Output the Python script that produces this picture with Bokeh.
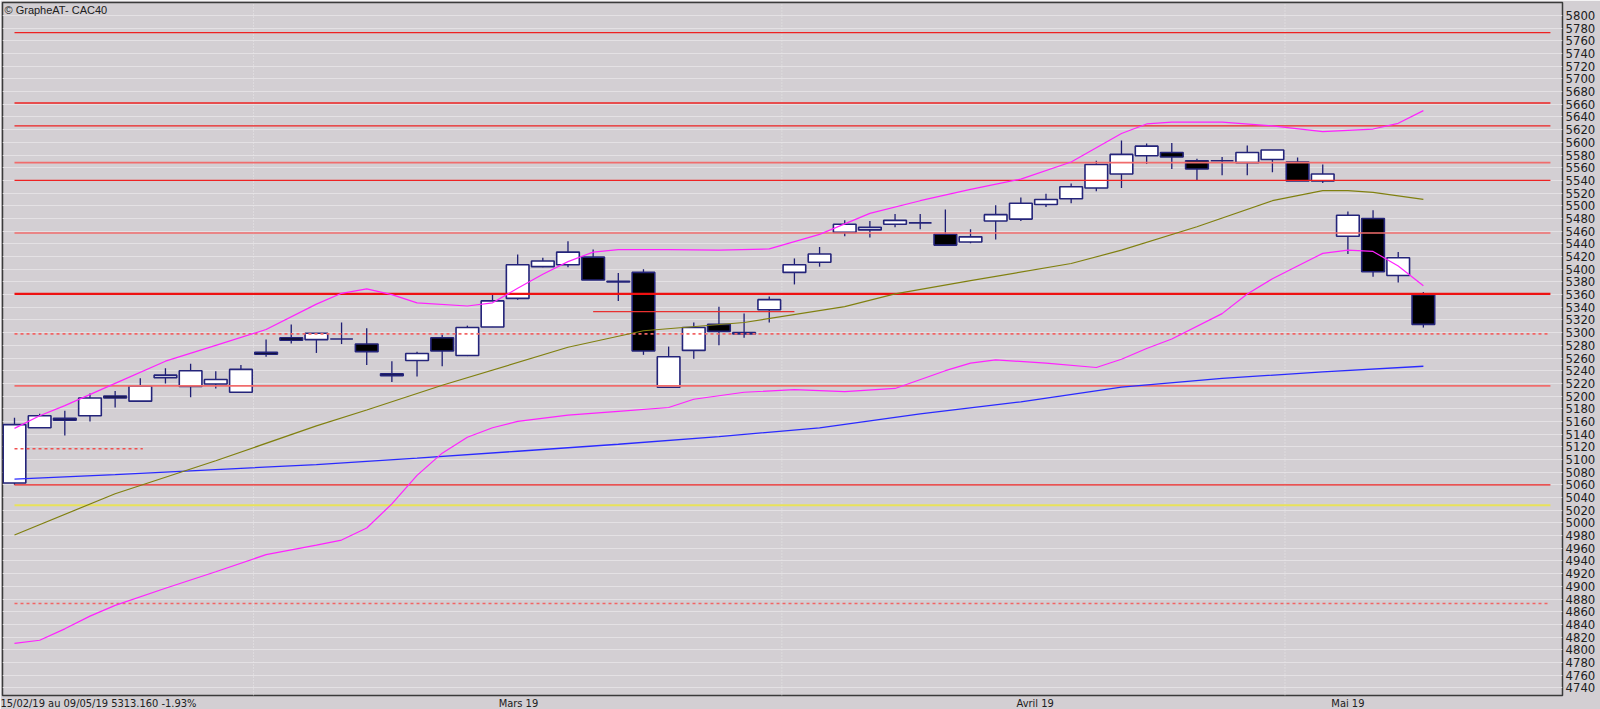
from bokeh.plotting import figure
from bokeh.models import Range1d, LinearAxis, FixedTicker, Label, ColumnDataSource
from bokeh.embed import file_html
from bokeh.resources import INLINE

# ---------------- data ----------------
dates = ["15/02", "18/02", "19/02", "20/02", "21/02", "22/02", "25/02", "26/02", "27/02", "28/02",
         "01/03", "04/03", "05/03", "06/03", "07/03", "08/03", "11/03", "12/03", "13/03", "14/03",
         "15/03", "18/03", "19/03", "20/03", "21/03", "22/03", "25/03", "26/03", "27/03", "28/03",
         "29/03", "01/04", "02/04", "03/04", "04/04", "05/04", "08/04", "09/04", "10/04", "11/04",
         "12/04", "15/04", "16/04", "17/04", "18/04", "23/04", "24/04", "25/04", "26/04", "29/04",
         "30/04", "02/05", "03/05", "06/05", "07/05", "08/05", "09/05"]

opens = [5063, 5150, 5165, 5169, 5200, 5192, 5229, 5215, 5219, 5206,
         5269, 5292, 5289, 5290, 5282, 5235, 5256, 5292, 5264, 5309,
         5354, 5404, 5407, 5419, 5381, 5395, 5214, 5272, 5313, 5300,
         5336, 5395, 5411, 5458, 5462, 5471, 5473, 5455, 5443, 5476,
         5479, 5502, 5511, 5528, 5550, 5579, 5584, 5571, 5571, 5568,
         5573, 5569, 5539, 5452, 5480, 5390, 5360]
highs = [5166, 5172, 5177, 5204, 5208, 5228, 5244, 5251, 5239, 5249,
         5289, 5313, 5299, 5316, 5307, 5255, 5270, 5297, 5311, 5360,
         5423, 5418, 5444, 5431, 5394, 5400, 5278, 5316, 5341, 5330,
         5357, 5417, 5435, 5477, 5476, 5487, 5487, 5494, 5463, 5501,
         5513, 5519, 5535, 5571, 5603, 5598, 5599, 5574, 5577, 5595,
         5588, 5576, 5565, 5491, 5493, 5427, 5364]
lows = [5060, 5150, 5138, 5160, 5182, 5192, 5220, 5198, 5212, 5206,
        5262, 5283, 5268, 5282, 5249, 5222, 5231, 5247, 5263, 5309,
        5352, 5403, 5403, 5383, 5350, 5265, 5213, 5259, 5280, 5292,
        5316, 5376, 5404, 5452, 5450, 5466, 5463, 5438, 5441, 5447,
        5476, 5498, 5504, 5523, 5528, 5566, 5558, 5539, 5548, 5548,
        5553, 5539, 5536, 5424, 5388, 5379, 5308]
closes = [5155, 5169, 5162, 5197, 5197, 5216, 5233, 5240, 5226, 5242,
          5266, 5288, 5299, 5290, 5270, 5232, 5267, 5271, 5308, 5350,
          5407, 5413, 5427, 5383, 5380, 5271, 5262, 5308, 5302, 5298,
          5352, 5407, 5424, 5471, 5466, 5477, 5473, 5438, 5451, 5486,
          5504, 5510, 5530, 5565, 5581, 5594, 5577, 5558, 5571, 5584,
          5588, 5539, 5550, 5485, 5396, 5418, 5313]

# long moving average (blue)
ma_long_day = [0, 4, 8, 12, 16, 20, 24, 28, 32, 36, 40, 44, 48, 52, 56]
ma_long_val = [5069, 5076, 5084, 5092, 5102, 5113, 5124, 5136, 5150, 5172, 5191, 5214, 5228, 5238, 5247]

# 20-day moving average (olive)
ma20_day = [0, 4, 8, 12, 14, 17, 22, 25, 29, 33, 35, 38, 42, 44, 47, 50, 52, 53, 54, 56]
ma20_val = [4981, 5046, 5098, 5153, 5178, 5217, 5277, 5303, 5316, 5341, 5361, 5382, 5409, 5430, 5467, 5508, 5524, 5524, 5521, 5510]

# Bollinger upper band (magenta)
bb_up_day = [0, 1, 2, 4, 6, 8, 10, 12, 13, 14, 15, 16, 18, 19, 20, 21, 22, 23, 24, 26, 28, 30,
             32, 34, 36, 38, 40, 42, 44, 45, 46, 48, 50, 52, 54, 55, 56]
bb_up_val = [5149, 5169, 5185, 5220, 5255, 5280, 5305, 5345, 5362, 5369, 5360, 5347, 5342, 5347,
             5370, 5392, 5412, 5427, 5431, 5431, 5430, 5432, 5455, 5488, 5508, 5526, 5542, 5569,
             5614, 5629, 5632, 5632, 5626, 5617, 5621, 5630, 5650]

# Bollinger lower band (magenta)
bb_lo_day = [0, 1, 2, 3, 4, 6, 8, 10, 12, 13, 14, 15, 16, 17, 18, 19, 20, 22, 24, 26, 27, 29, 31,
             33, 35, 37, 38, 39, 41, 43, 44, 45, 46, 48, 49, 50, 51, 52, 53, 54, 55, 56]
bb_lo_val = [4810, 4815, 4833, 4853, 4870, 4897, 4923, 4950, 4965, 4973, 4992, 5030, 5075, 5110,
             5135, 5150, 5160, 5170, 5176, 5182, 5195, 5206, 5210, 5207, 5212, 5240, 5252, 5257,
             5252, 5245, 5258, 5275, 5290, 5330, 5361, 5385, 5405, 5425, 5430, 5428, 5405, 5374]

# horizontal support / resistance levels
levels_strong = [5773, 5662, 5626, 5540, 5060]
levels_light = [5568, 5457, 5216]
level_main = [5361]
levels_dotted = [5298, 4873]
level_yellow = [5028]
short_dotted_level = [5117]
short_dotted_days = [0, 5.1]
short_thin_level = [5333]
short_thin_days = [23, 31]

y_ticks = list(range(4740, 5801, 20))
month_names = ["Mars 19", "Avril 19", "Mai 19"]
period_text = "15/02/19 au 09/05/19 5313.160 -1.93%"
title_text = "\u00a9 GrapheAT- CAC40"

# ---------------- figure ----------------
BG = "#d3cfd3"
Y0, Y1 = 4727.9, 5820.5
X0, X1 = -0.477, 61.53
p = figure(frame_width=1560, frame_height=693,
           x_range=Range1d(X0, X1), y_range=Range1d(Y0, Y1),
           output_backend="svg", toolbar_location=None,
           x_axis_location=None, y_axis_location=None,
           min_border_left=2, min_border_top=2, min_border_right=38, min_border_bottom=14,
           background_fill_color=BG, border_fill_color=BG)
p.outline_line_color = "#3a3a3a"
p.outline_line_width = 1.5

narrow = "'Liberation Sans Narrow', 'Arial Narrow', 'DejaVu Sans Condensed', sans-serif"

# right price axis
ay = LinearAxis(ticker=FixedTicker(ticks=y_ticks))
ay.axis_line_color = None
ay.major_tick_line_color = None
ay.minor_tick_line_color = None
ay.major_tick_out = 0
ay.major_tick_in = 0
ay.major_label_standoff = 3
ay.major_label_text_font = narrow
ay.major_label_text_font_size = "13px"
ay.major_label_text_color = "#202020"
p.add_layout(ay, "right")

# bottom axis: period text + month names (labels centred on their ticks)
period_pos = 3.22
month_pos = [20.03, 40.57, 53.0]
ax = LinearAxis(ticker=FixedTicker(ticks=[period_pos] + month_pos))
overrides = {period_pos: period_text}
for pos, name in zip(month_pos, month_names):
    overrides[pos] = name
ax.major_label_overrides = overrides
ax.axis_line_color = None
ax.major_tick_line_color = None
ax.minor_tick_line_color = None
ax.major_tick_out = 0
ax.major_tick_in = 0
ax.major_label_standoff = 1
ax.major_label_text_align = "center"
ax.major_label_text_font = narrow
ax.major_label_text_font_size = "11px"
ax.major_label_text_color = "#202020"
p.add_layout(ax, "below")

# grids
p.xgrid.grid_line_color = None
p.ygrid.ticker = FixedTicker(ticks=y_ticks)
p.ygrid.grid_line_color = "#e4e1e4"
p.ygrid.grid_line_width = 1

# month separators
for d in [9.5, 30.5, 50.5]:
    p.segment(x0=[d], x1=[d], y0=[Y0], y1=[Y1], line_color="#e8e6e8", line_dash="1 2", line_width=1)

# candles
n = len(dates)
idx = list(range(n))
body_top = [max(o, c) for o, c in zip(opens, closes)]
body_bot = [min(o, c) for o, c in zip(opens, closes)]
fill = ["#000000" if c < o else "#ffffff" for o, c in zip(opens, closes)]
src = ColumnDataSource(dict(x=idx, high=highs, low=lows, top=body_top, bottom=body_bot, fill=fill))
p.segment(x0="x", x1="x", y0="low", y1="high", source=src, line_color="#1e1e74", line_width=1.3)
p.vbar(x="x", width=0.9, top="top", bottom="bottom", source=src, fill_color="fill",
       line_color="#24247a", line_width=1.6)

# levels
x_start, x_end = 0, 61.05
def hlines(levels, **kw):
    p.segment(x0=[x_start] * len(levels), x1=[x_end] * len(levels), y0=levels, y1=levels, **kw)

hlines(levels_strong, line_color="#ee2222", line_width=1.4)
hlines(levels_light, line_color="#f06c6c", line_width=1.6)
hlines(level_main, line_color="#ee1111", line_width=2.2)
hlines(levels_dotted, line_color="#f26464", line_width=1.6, line_dash="3 3")
hlines(level_yellow, line_color="#e8e25a", line_width=2)
p.segment(x0=[short_dotted_days[0]], x1=[short_dotted_days[1]], y0=short_dotted_level, y1=short_dotted_level,
          line_color="#f05050", line_width=1.4, line_dash="3 3")
p.segment(x0=[short_thin_days[0]], x1=[short_thin_days[1]], y0=short_thin_level, y1=short_thin_level,
          line_color="#e83030", line_width=1.2)

# indicator lines
p.line(ma_long_day, ma_long_val, line_color="#2a2aff", line_width=1.3)
p.line(ma20_day, ma20_val, line_color="#808010", line_width=1.2)
p.line(bb_up_day, bb_up_val, line_color="#ff22ff", line_width=1.2)
p.line(bb_lo_day, bb_lo_val, line_color="#ff22ff", line_width=1.2)

# title inside plot
p.add_layout(Label(x=X0, y=Y1, text=title_text, text_baseline="top", text_align="left",
                   x_offset=2, y_offset=-1, text_font="'Liberation Sans', Arial, sans-serif",
                   text_font_size="11px", text_color="#202020"))

open("out.html", "w").write(file_html(p, INLINE))
